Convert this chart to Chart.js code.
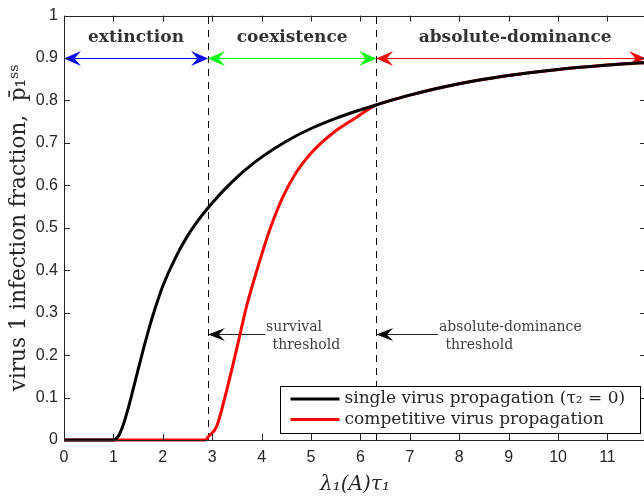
<!DOCTYPE html>
<html><head><meta charset="utf-8">
<script src="https://cdn.jsdelivr.net/npm/chart.js@4/dist/chart.umd.min.js"></script>
<style>
html,body{margin:0;padding:0;background:#fff;overflow:hidden;width:644px;height:499px}
#wrap{width:650px;height:499px}
</style></head>
<body><div id="wrap"><canvas id="c" width="650" height="499"></canvas></div>
<script>
// ---- data ----
const xTicks = [0,1,2,3,4,5,6,7,8,9,10,11];
const yTicks = [0,0.1,0.2,0.3,0.4,0.5,0.6,0.7,0.8,0.9,1];
const yTickLabels = ['0','0.1','0.2','0.3','0.4','0.5','0.6','0.7','0.8','0.9','1'];
const xMax = 11.78;

const singleX = [0, 1.0, 1.1, 1.2, 1.3, 1.4, 1.5, 1.6, 1.7, 1.8, 1.9, 2.0, 2.25, 2.5, 2.75, 3.0, 3.25, 3.5, 3.75, 4.0, 4.5, 5.0, 5.5, 6.0, 6.33, 6.5, 7.0, 7.5, 8.0, 8.5, 9.0, 10.0, 11.0, 11.78];
const singleY = [0, 0, 0.009, 0.036, 0.075, 0.120, 0.166, 0.211, 0.254, 0.294, 0.330, 0.363, 0.428, 0.481, 0.523, 0.5585, 0.5905, 0.619, 0.644, 0.6665, 0.704, 0.734, 0.758, 0.778, 0.790, 0.796, 0.8125, 0.827, 0.8395, 0.850, 0.859, 0.873, 0.8835, 0.8897];

const compX = [0, 2.86, 2.92, 3.09, 3.29, 3.50, 3.70, 3.97, 4.17, 4.44, 4.71, 5.05, 5.45, 5.86, 6.33, 6.5, 7.0, 7.5, 8.0, 8.5, 9.0, 10.0, 11.0, 11.78];
const compY = [0, 0, 0.008, 0.032, 0.116, 0.217, 0.317, 0.425, 0.497, 0.575, 0.632, 0.682, 0.724, 0.756, 0.790, 0.796, 0.8125, 0.827, 0.8395, 0.850, 0.859, 0.873, 0.8835, 0.8897];

const seriesLabels = ['single virus propagation (\u03C4\u2082 = 0)', 'competitive virus propagation'];
const seriesColors = ['#000000', '#ff0000'];

const thresholds = [2.915, 6.32];
const regionNames = ['extinction', 'coexistence', 'absolute-dominance'];
const regionBounds = [0, 2.915, 6.32, xMax];
const regionColors = ['#0000ff', '#00ff00', '#ff0000'];
const regionArrowY = 0.9;
const regionLabelY = 0.948;

const thresholdNotes = [
  {x: thresholds[0], xEnd: 4.07, y: 0.25, lines: ['survival', ' threshold']},
  {x: thresholds[1], xEnd: 7.57, y: 0.25, lines: ['absolute-dominance', ' threshold']}
];

const toPts = (xs, ys) => xs.map((x, i) => ({x: x, y: ys[i]}));

function arrowHead(ctx, x, y, dir, len, half) {
  ctx.beginPath();
  ctx.moveTo(x, y);
  ctx.lineTo(x - dir * len, y - half);
  ctx.lineTo(x - dir * len * 0.62, y);
  ctx.lineTo(x - dir * len, y + half);
  ctx.closePath();
  ctx.fill();
}

const decor = {
  id: 'decor',
  beforeDatasetsDraw(chart) {
    const {ctx, chartArea: a, scales: {x, y}} = chart;
    ctx.save();
    ctx.strokeStyle = '#000';
    ctx.lineWidth = 1;
    ctx.setLineDash([7, 6]);
    thresholds.forEach(t => {
      const px = Math.round(x.getPixelForValue(t)) + 0.5;
      ctx.beginPath(); ctx.moveTo(px, a.bottom); ctx.lineTo(px, a.top); ctx.stroke();
    });
    ctx.setLineDash([]);
    const ay = Math.round(y.getPixelForValue(regionArrowY)) + 0.5;
    for (let i = 0; i < 3; i++) {
      const x0 = x.getPixelForValue(regionBounds[i]);
      const x1 = x.getPixelForValue(regionBounds[i + 1]);
      ctx.strokeStyle = regionColors[i]; ctx.fillStyle = regionColors[i];
      ctx.lineWidth = 1;
      ctx.beginPath(); ctx.moveTo(x0 + 4, ay); ctx.lineTo(x1 - 4, ay); ctx.stroke();
      arrowHead(ctx, x0, ay, -1, 17, 7.5);
      arrowHead(ctx, x1, ay, 1, 17, 7.5);
    }
    ctx.fillStyle = '#333';
    ctx.font = 'bold 17px "DejaVu Serif"';
    ctx.textAlign = 'center'; ctx.textBaseline = 'middle';
    const ly = y.getPixelForValue(regionLabelY);
    for (let i = 0; i < 3; i++) {
      let cx = (x.getPixelForValue(regionBounds[i]) + x.getPixelForValue(regionBounds[i + 1])) / 2;
      if (i === 2) cx += 4;
      ctx.fillText(regionNames[i], cx, ly);
    }
    thresholdNotes.forEach(n => {
      const px0 = x.getPixelForValue(n.x), px1 = x.getPixelForValue(n.xEnd);
      const py = Math.round(y.getPixelForValue(n.y)) + 0.5;
      ctx.strokeStyle = '#222'; ctx.fillStyle = '#000'; ctx.lineWidth = 1;
      ctx.beginPath(); ctx.moveTo(px0 + 5, py); ctx.lineTo(px1, py); ctx.stroke();
      arrowHead(ctx, px0, py, -1, 17, 6.5);
      ctx.fillStyle = '#404040';
      ctx.font = '14px "DejaVu Serif"';
      ctx.textAlign = 'left'; ctx.textBaseline = 'middle';
      ctx.fillText(n.lines[0], px1 + 1, py - 7);
      ctx.fillText(n.lines[1], px1 + 3, py + 11);
    });
    ctx.restore();
  },
  afterDraw(chart) {
    const {ctx, chartArea: a, scales: {x, y}} = chart;
    ctx.save();
    ctx.strokeStyle = '#262626';
    ctx.lineWidth = 1;
    ctx.strokeRect(Math.round(a.left) + 0.5, Math.round(a.top) + 0.5, Math.round(a.right - a.left), Math.round(a.bottom - a.top));
    const tl = 6;
    ctx.beginPath();
    xTicks.forEach(v => {
      const px = Math.round(x.getPixelForValue(v)) + 0.5;
      ctx.moveTo(px, a.bottom); ctx.lineTo(px, a.bottom - tl);
      ctx.moveTo(px, a.top); ctx.lineTo(px, a.top + tl);
    });
    yTicks.forEach(v => {
      const py = Math.round(y.getPixelForValue(v)) + 0.5;
      ctx.moveTo(a.left, py); ctx.lineTo(a.left + tl, py);
      ctx.moveTo(a.right, py); ctx.lineTo(a.right - tl, py);
    });
    ctx.stroke();
    const bx = 280.5, by = 386.5, bw = 360, bh = 47;
    ctx.fillStyle = '#fff';
    ctx.fillRect(bx, by, bw, bh);
    ctx.strokeStyle = '#000';
    ctx.strokeRect(bx, by, bw, bh);
    ctx.font = '17px "DejaVu Serif"';
    ctx.textAlign = 'left'; ctx.textBaseline = 'middle';
    chart.data.datasets.forEach((ds, i) => {
      const ly = by + 12.5 + i * 20.5;
      ctx.strokeStyle = ds.borderColor; ctx.lineWidth = 3;
      ctx.beginPath(); ctx.moveTo(bx + 10, ly); ctx.lineTo(bx + 59, ly); ctx.stroke();
      ctx.fillStyle = '#262626';
      ctx.fillText(ds.label, bx + 64, ly);
    });
    ctx.restore();
  }
};

new Chart(document.getElementById('c'), {
  type: 'line',
  data: {
    datasets: [
      {label: seriesLabels[0], data: toPts(singleX, singleY), borderColor: seriesColors[0], borderWidth: 3, pointRadius: 0, cubicInterpolationMode: 'monotone', clip: 6},
      {label: seriesLabels[1], data: toPts(compX, compY), borderColor: seriesColors[1], borderWidth: 3, pointRadius: 0, cubicInterpolationMode: 'monotone', clip: 6}
    ]
  },
  options: {
    responsive: false,
    animation: false,
    events: [],
    layout: {padding: {top: 8, right: 4, left: 0, bottom: 0}},
    plugins: {legend: {display: false}, tooltip: {enabled: false}},
    scales: {
      x: {
        type: 'linear', min: 0, max: xMax,
        afterBuildTicks: s => { s.ticks = xTicks.map(v => ({value: v})); },
        afterFit: s => { s.height = 59; },
        grid: {display: false, drawTicks: false},
        border: {display: false},
        ticks: {color: '#262626', font: {family: '"Liberation Sans", Arial', size: 16}, padding: 8, maxRotation: 0, autoSkip: false},
        title: {display: true, text: '\u03BB\u2081(A)\u03C4\u2081', color: '#262626', font: {family: '"DejaVu Serif"', size: 20, style: 'italic'}, padding: {top: 0, bottom: 2}}
      },
      y: {
        type: 'linear', min: 0, max: 1,
        afterBuildTicks: s => { s.ticks = yTicks.map(v => ({value: v})); },
        afterFit: s => { s.width = 64; },
        grid: {display: false, drawTicks: false},
        border: {display: false},
        ticks: {color: '#262626', font: {family: '"Liberation Sans", Arial', size: 16}, padding: 6, autoSkip: false,
          callback: (v, i) => yTickLabels[i]},
        title: {display: true, text: 'virus 1 infection fraction,  p\u0304\u2081\u02E2\u02E2', color: '#262626', font: {family: '"DejaVu Serif"', size: 21.5}, padding: {top: 7, bottom: 0}}
      }
    }
  },
  plugins: [decor]
});
</script>
</body></html>
